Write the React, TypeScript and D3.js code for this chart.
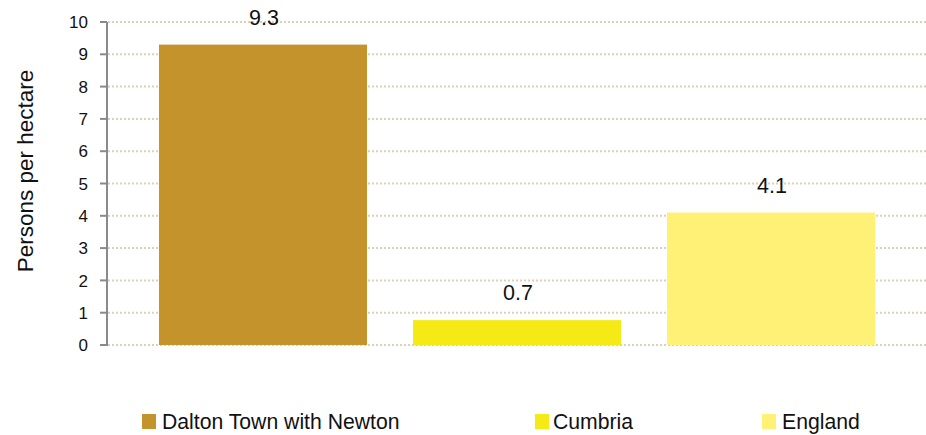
import React from "react";
import * as d3 from "d3";

const categories = ["Dalton Town with Newton", "Cumbria", "England"];
const values = [9.3, 0.77, 4.1];
const valueLabels = ["9.3", "0.7", "4.1"];
const colors = ["#C4932B", "#F5EA16", "#FFF175"];
const yTicks = [0, 1, 2, 3, 4, 5, 6, 7, 8, 9, 10];
const yTitle = "Persons per hectare";

const W = 926;
const H = 435;
const FONT = "'Liberation Sans', Arial, sans-serif";

export default function App() {
  const y = d3.scaleLinear().domain([0, 10]).range([345, 22]);
  const x = d3
    .scaleBand<string>()
    .domain(categories)
    .range([136, 898])
    .paddingInner(0.181)
    .paddingOuter(0.0905);
  const axisX = 107;
  const legendItems = [
    { sq: 142, tx: 162 },
    { sq: 535, tx: 553 },
    { sq: 762, tx: 782 },
  ];
  return (
    <div style={{ position: "absolute", left: 0, top: 0 }}>
      <svg width={W} height={H} style={{ display: "block", background: "#fff" }} fontFamily={FONT}>
        {yTicks.map((t) => (
          <line
            key={"g" + t}
            x1={axisX + 1}
            x2={W}
            y1={y(t)}
            y2={y(t)}
            stroke="#d9d2b6"
            strokeWidth={2}
            strokeDasharray="2 2"
          />
        ))}
        {categories.map((c, i) => (
          <rect
            key={c}
            x={x(c)}
            y={y(values[i])}
            width={x.bandwidth()}
            height={y(0) - y(values[i])}
            fill={colors[i]}
          />
        ))}
        {categories.map((c, i) => (
          <text
            key={"l" + c}
            x={(x(c) as number) + x.bandwidth() / 2 + 1}
            y={y(values[i]) - 20}
            textAnchor="middle"
            fontSize={21.5}
            fill="#111"
          >
            {valueLabels[i]}
          </text>
        ))}
        <line x1={axisX} x2={axisX} y1={y(10)} y2={y(0) + 1} stroke="#8a8a8a" strokeWidth={2} />
        {yTicks.map((t) => (
          <g key={"t" + t}>
            <line x1={axisX - 7} x2={axisX} y1={y(t)} y2={y(t)} stroke="#8a8a8a" strokeWidth={2} />
            <text
              x={88}
              y={y(t)}
              dy="0.36em"
              textAnchor="end"
              fontSize={17}
              fill="#111"
            >
              {t}
            </text>
          </g>
        ))}
        <text
          transform={`translate(33,171) rotate(-90)`}
          textAnchor="middle"
          fontSize={22.5}
          fill="#111"
        >
          {yTitle}
        </text>
        {categories.map((c, i) => (
          <g key={"lg" + c}>
            <rect x={legendItems[i].sq} y={414} width={14} height={15} fill={colors[i]} />
            <text x={legendItems[i].tx} y={429} fontSize={21.2} fill="#111">
              {c}
            </text>
          </g>
        ))}
      </svg>
    </div>
  );
}
